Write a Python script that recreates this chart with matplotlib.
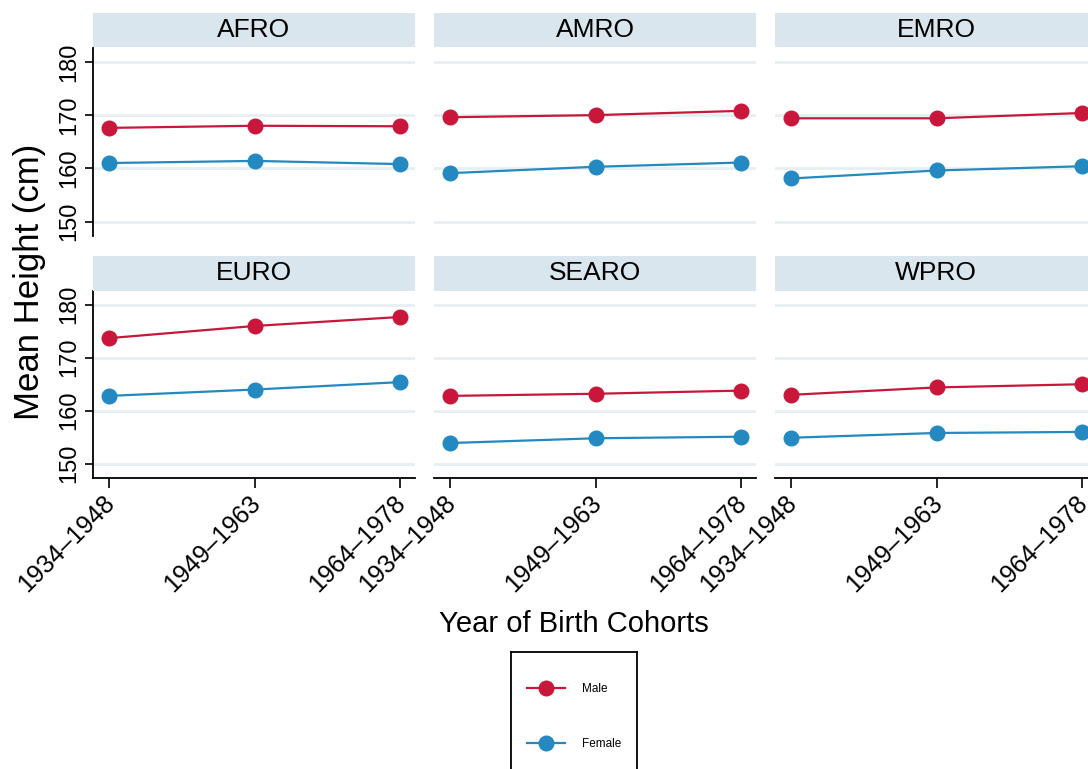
import matplotlib
matplotlib.use("Agg")
import matplotlib.pyplot as plt
from matplotlib.lines import Line2D

plt.rcParams["font.family"] = ["Liberation Sans", "DejaVu Sans"]

W, H = 1088, 769

regions = ["AFRO", "AMRO", "EMRO", "EURO", "SEARO", "WPRO"]
cohorts = ["1934\u20131948", "1949\u20131963", "1964\u20131978"]
male = {
    "AFRO": [167.6, 168.0, 167.9],
    "AMRO": [169.6, 170.0, 170.8],
    "EMRO": [169.4, 169.4, 170.4],
    "EURO": [173.7, 176.0, 177.7],
    "SEARO": [162.8, 163.2, 163.8],
    "WPRO": [163.0, 164.4, 165.0],
}
female = {
    "AFRO": [161.0, 161.4, 160.8],
    "AMRO": [159.1, 160.3, 161.1],
    "EMRO": [158.1, 159.6, 160.4],
    "EURO": [162.8, 164.0, 165.4],
    "SEARO": [153.9, 154.8, 155.1],
    "WPRO": [154.9, 155.8, 156.0],
}
yticks = [150, 160, 170, 180]

RED = "#c8173a"
BLUE = "#2389c0"
GRID = "#e6eff2"
STRIP = "#d9e6ed"

col_x = [93, 434, 775]
col_w = 322
rows = [(48, 236, 13, 47), (291, 478, 256, 291)]  # axes top, axes bottom, strip top, strip bottom


def rect(x0, y0, x1, y1):
    return [x0 / W, 1 - y1 / H, (x1 - x0) / W, (y1 - y0) / H]


fig = plt.figure(figsize=(W / 100, H / 100), dpi=100)

for k, reg in enumerate(regions):
    r, c = divmod(k, 3)
    top, bot, st, sb = rows[r]
    x0 = col_x[c]
    ax = fig.add_axes(rect(x0, top, x0 + col_w, bot))
    xs = range(len(cohorts))
    for v in yticks:
        ax.axhline(v, color=GRID, lw=2, zorder=0)
    ax.plot(xs, male[reg], "-o", color=RED, lw=1.6, ms=10.5, zorder=3)
    ax.plot(xs, female[reg], "-o", color=BLUE, lw=1.6, ms=10.5, zorder=3)
    ax.set_xlim(-0.11, 2.1)
    ax.set_ylim(147.3, 182.6)
    for s in ["top", "right"]:
        ax.spines[s].set_visible(False)
    ax.spines["left"].set_visible(c == 0)
    ax.spines["bottom"].set_visible(r == 1)
    ax.spines["left"].set_linewidth(1.3)
    ax.spines["bottom"].set_linewidth(1.3)
    ax.set_yticks(yticks)
    ax.set_xticks(list(xs))
    if c == 0:
        ax.set_yticklabels([str(v) for v in yticks], rotation=90, va="center", fontsize=17)
        ax.tick_params(axis="y", length=6, width=1.2, pad=3)
    else:
        ax.tick_params(axis="y", length=0, labelleft=False)
    if r == 1:
        ax.set_xticklabels(cohorts, rotation=45, ha="right", va="center_baseline",
                           rotation_mode="anchor", fontsize=18)
        ax.tick_params(axis="x", length=7, width=1.2, pad=7)
    else:
        ax.tick_params(axis="x", length=0, labelbottom=False)

    sx = fig.add_axes(rect(x0, st, x0 + col_w, sb))
    sx.set_facecolor(STRIP)
    sx.set_xticks([])
    sx.set_yticks([])
    for s in sx.spines.values():
        s.set_visible(False)
    sx.text(0.5, 0.5, reg, ha="center", va="center", fontsize=19, transform=sx.transAxes)

fig.text(30 / W, 1 - 282 / H, "Mean Height (cm)", rotation=90, ha="center", va="center", fontsize=25)
fig.text(574 / W, 1 - 624 / H, "Year of Birth Cohorts", ha="center", va="center", fontsize=21)

lax = fig.add_axes(rect(511, 652, 637, 790))
lax.set_xticks([])
lax.set_yticks([])
for s in lax.spines.values():
    s.set_linewidth(1.3)
    s.set_color("black")
handles = [Line2D([], [], color=RED, lw=1.6, marker="o", ms=10.5),
           Line2D([], [], color=BLUE, lw=1.6, marker="o", ms=10.5)]
lax.legend(handles, ["Male", "Female"], loc="upper left", bbox_to_anchor=(-0.01, 0.905),
           frameon=False, fontsize=8.5, handlelength=3.2, handletextpad=1.4,
           labelspacing=3.7, borderpad=1.0, borderaxespad=0.5)

fig.savefig("out.png", dpi=100)
